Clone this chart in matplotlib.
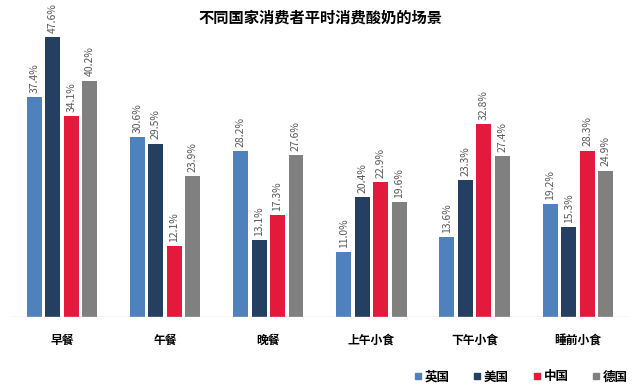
import numpy as np
import matplotlib.pyplot as plt
from matplotlib.lines import Line2D

plt.rcParams['font.family'] = ['Noto Sans CJK SC', 'DejaVu Sans']

categories = ['早餐', '午餐', '晚餐', '上午小食', '下午小食', '睡前小食']
series = ['英国', '美国', '中国', '德国']
uk = [37.4, 30.6, 28.2, 11.0, 13.6, 19.2]
us = [47.6, 29.5, 13.1, 20.4, 23.3, 15.3]
cn = [34.1, 12.1, 17.3, 22.9, 32.8, 28.3]
de = [40.2, 23.9, 27.6, 19.6, 27.4, 24.9]
colors = ['#4F81BD', '#243F62', '#E31A3C', '#808080']

fig = plt.figure(figsize=(6.4, 3.91), dpi=100)
ax = fig.add_axes([10.4 / 640, 0.189, 619 / 640, 0.811])

x = np.arange(len(categories))
step = 0.179
width = 0.145
for i, (vals, col) in enumerate(zip([uk, us, cn, de], colors)):
    pos = x + (i - 1.5) * step
    ax.bar(pos, vals, width, color=col, label=series[i])
    for p, v in zip(pos, vals):
        ax.annotate(f'{v:.1f}%', (p, v), xytext=(0, 3), textcoords='offset points',
                    rotation=90, ha='center', va='bottom', fontsize=7.5,
                    color='#595959', annotation_clip=False)

ax.set_xlim(-0.5, 5.5)
ax.set_ylim(0, 53.9)
ax.axhline(0, color='#D9D9D9', lw=1)
for s in ax.spines.values():
    s.set_visible(False)
ax.set_yticks([])
ax.set_xticks(x)
ax.set_xticklabels(categories, fontsize=8.5, fontweight='bold')
ax.tick_params(axis='x', length=0, pad=12)

fig.text(0.5, 0.954, '不同国家消费者平时消费酸奶的场景', ha='center', va='center',
         fontsize=11, fontweight='bold')

handles = [Line2D([], [], marker='s', ls='', color=c, markersize=5) for c in colors]
fig.legend(handles, series, loc='center', bbox_to_anchor=(0.812, 0.036), ncol=4,
           frameon=False, handletextpad=0.05, columnspacing=1.7, handlelength=1.0,
           prop={'size': 9, 'weight': 'bold'})

fig.savefig('out.png', dpi=100)
